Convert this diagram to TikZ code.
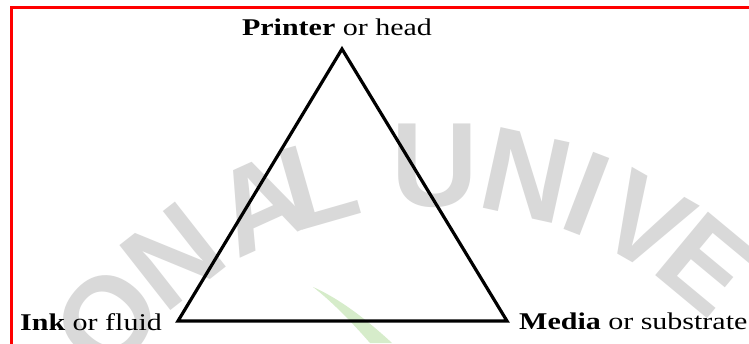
\documentclass[tikz,border=0pt]{standalone}
\usepackage{fontspec}
\setmainfont{Liberation Serif}
\newfontfamily\wmfont{Liberation Sans}
\usetikzlibrary{calc}
\definecolor{leafgreen}{HTML}{D6ECCA}
\definecolor{wmgray}{HTML}{D9D9D9}
\begin{document}
\begin{tikzpicture}[x=1pt,y=-1pt,
  lbl/.style={inner sep=0pt,font=\fontsize{24}{28}\selectfont},
  wm/.style={inner sep=0pt,text=wmgray,font=\wmfont\bfseries\fontsize{120}{122}\selectfont},
  tri/.style={line width=3.2pt,line join=miter},
  frame/.style={draw=red,line width=3pt}]
\useasboundingbox (0,0) rectangle (749,343);
\clip (0,0) rectangle (749,343);
\fill[white] (0,0) rectangle (749,343);
% watermark
\coordinate (wc) at (435,591);
\foreach \ch/\ang [count=\i] in {O/140.3,N/128.1,A/114.4,L/106,U/90,N/77.6,I/69,V/60.2,E/50.3}
  \node[wm,rotate=\ang-90] (w\i) at ($(wc)+(-\ang:425)$) {\ch};
\fill[leafgreen] (313,287) .. controls (330,300) and (350,320) .. (370,343)
  -- (392,343) .. controls (365,318) and (338,298) .. cycle;
% frame
\draw[frame] (11,7.5) rectangle (780,370);
% triangle
\coordinate (P) at (342,49);
\coordinate (L) at (178,321);
\coordinate (R) at (507,321);
\draw[tri] (L) -- (P) -- (R) -- cycle;
% labels
\node[lbl,anchor=base] (top) at (337,35) {\scalebox{1.25}[1]{\textbf{Printer} or head}};
\node[lbl,anchor=base west] (ink) at (20,330) {\scalebox{1.25}[1]{\textbf{Ink} or fluid}};
\node[lbl,anchor=base west] (media) at (519,329) {\scalebox{1.25}[1]{\textbf{Media} or substrate}};
\end{tikzpicture}
\end{document}
